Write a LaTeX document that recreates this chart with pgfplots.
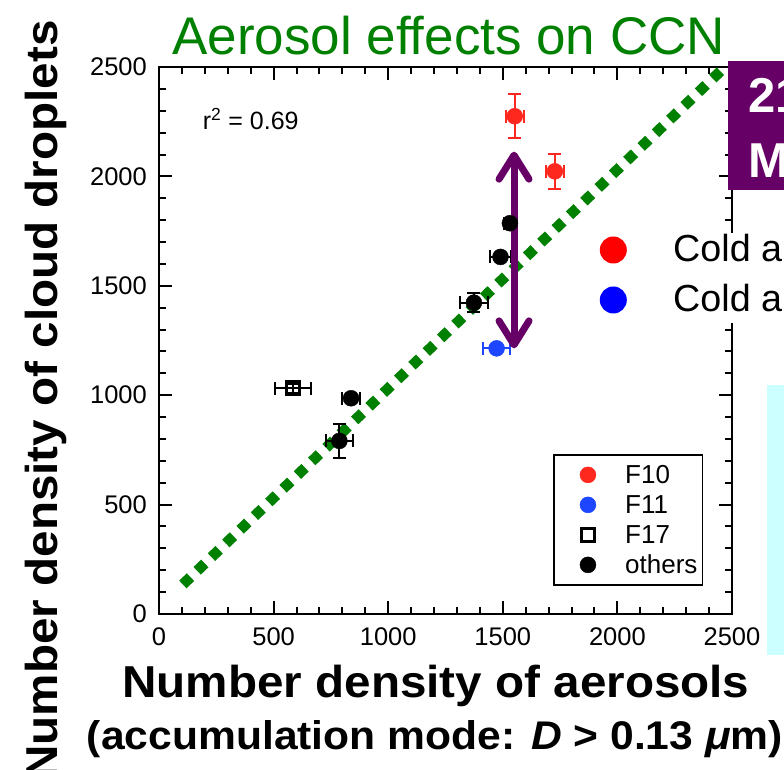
\documentclass[border=0pt]{standalone}
\usepackage{fontspec}
\setmainfont{Liberation Sans}
\newfontfamily\labelfont[FakeStretch=1.065]{Liberation Sans}
\usepackage{pgfplots}
\pgfplotsset{compat=1.18}
\usetikzlibrary{arrows.meta}

\definecolor{titlegreen}{RGB}{0,128,0}
\definecolor{ptred}{RGB}{255,40,30}
\definecolor{ptblue}{RGB}{30,70,255}
\definecolor{slidepurple}{RGB}{102,0,102}
\definecolor{slidecyan}{RGB}{204,255,255}

\pgfplotsset{
  errs/.style={error bars/.cd,
    x dir=both, x explicit, y dir=both, y explicit,
    error bar style={line width=2pt},
    error mark options={rotate=90, line width=2pt, mark size=6.5pt}}
}

\begin{document}
\begin{tikzpicture}[x=1pt,y=1pt]
\useasboundingbox (0,0) rectangle (784,770);
\clip (0,0) rectangle (784,770);
\fill[white] (0,0) rectangle (784,770);
\fill[slidecyan] (766.7,115) rectangle (790,385);

% slide title
\node[anchor=base west, inner sep=0pt, text=titlegreen,
      font=\fontsize{53}{53}\selectfont] at (172,715) {Aerosol effects on CCN};

\begin{axis}[
  at={(159pt,156pt)}, anchor=south west,
  scale only axis, width=573pt, height=547pt,
  xmin=0, xmax=2500, ymin=0, ymax=2500,
  xtick={0,500,...,2500}, ytick={0,500,...,2500},
  minor tick num=4,
  tick align=inside,
  major tick length=13pt, minor tick length=7pt,
  every tick/.append style={black, line width=2pt},
  axis line style={line width=2pt},
  tick label style={font=\fontsize{25.5}{25.5}\selectfont},
  /pgf/number format/assume math mode=true,
  /pgf/number format/set thousands separator={},
  xticklabel style={anchor=north, inner sep=0pt, yshift=-13pt},
  yticklabel style={anchor=east, inner sep=0pt, xshift=-12pt},
  legend style={at={(0.950,0.0517)}, anchor=south east,
    draw=black, line width=1.7pt, fill=white,
    inner xsep=5pt, inner ysep=5pt, row sep=0pt,
    font=\fontsize{26}{26}\selectfont,
    nodes={inner sep=0pt, text height=24pt, text depth=6pt}},
  legend cell align=left,
  legend image code/.code={%
    \path[draw=none, fill=none] (0pt,-15pt) rectangle (66pt,15pt);
    \draw[#1] plot coordinates {(28.7pt,0pt)};},
]

% linear fit
\addplot[titlegreen, line width=10.6pt, dash pattern=on 10.6pt off 9.2pt, forget plot]
  coordinates {(104,135) (2455,2486)};

% F10
\addplot[only marks, mark=*, mark size=8pt, ptred, forget plot, errs]
  coordinates {(1552,2275) +- (40,100) (1727,2023) +- (40,80)};
% F11
\addplot[only marks, mark=*, mark size=8pt, ptblue, forget plot, errs]
  coordinates {(1473,1214) +- (60,15)};
% F17
\addplot[only marks, mark=square, mark size=6.5pt, black,
         mark options={line width=3.2pt}, forget plot, errs]
  coordinates {(583,1032) +- (78,20)};
% other flights
\addplot[only marks, mark=*, mark size=8pt, black, forget plot, errs]
  coordinates {
    (1531,1786) +- (25,10)
    (1490,1632) +- (44,12)
    (1374,1423) +- (60,42)
    (838,986)   +- (41,15)
    (787,791)   +- (60,79)
  };

\addlegendimage{only marks, mark=*, mark size=8pt, ptred, line width=0.4pt}
\addlegendentry{F10}
\addlegendimage{only marks, mark=*, mark size=8pt, ptblue, line width=0.4pt}
\addlegendentry{F11}
\addlegendimage{only marks, mark=square, mark size=6.5pt, black, line width=3.5pt}
\addlegendentry{F17}
\addlegendimage{only marks, mark=*, mark size=8pt, black, line width=0.4pt}
\addlegendentry{others}

% difference between F10 and F11
\draw[slidepurple, line width=7pt,
      {Straight Barb[round, length=24pt, width=30pt]}-{Straight Barb[round, length=24pt, width=30pt]}]
  (axis cs:1549,2113) -- (axis cs:1549,1214);
\end{axis}

% correlation
\node[anchor=base west, inner sep=0pt, font=\fontsize{25}{25}\selectfont]
  at (202.7,640) {r\textsuperscript{2} = 0.69};

% axis titles
\node[rotate=90, anchor=base, inner sep=0pt,
      font=\labelfont\bfseries\fontsize{44.7}{44.7}\selectfont]
  at (57,370) {Number density of cloud droplets};
\node[anchor=base, inner sep=0pt,
      font=\labelfont\bfseries\fontsize{44.7}{44.7}\selectfont]
  at (436,72) {Number density of aerosols};
\node[anchor=base, inner sep=0pt,
      font=\labelfont\bfseries\fontsize{40}{40}\selectfont]
  at (435,20) {(accumulation mode: \textit{D} > 0.13 \textit{μ}m)};

% side panel of the slide
\fill[slidepurple] (728.3,580) rectangle (790,709);
\node[anchor=base west, inner sep=0pt, text=white,
      font=\bfseries\fontsize{49}{49}\selectfont] at (748,657) {21};
\node[anchor=base west, inner sep=0pt, text=white,
      font=\bfseries\fontsize{49}{49}\selectfont] at (748,592) {M};
\fill[white] (700,447) rectangle (790,537);
\fill[red] (613.3,520) circle (13.5);
\fill[blue] (613.3,470) circle (13.5);
\node[anchor=base west, inner sep=0pt, font=\fontsize{37.7}{37.7}\selectfont]
  at (673,508) {Cold a};
\node[anchor=base west, inner sep=0pt, font=\fontsize{37.7}{37.7}\selectfont]
  at (673,458) {Cold a};
\end{tikzpicture}
\end{document}
